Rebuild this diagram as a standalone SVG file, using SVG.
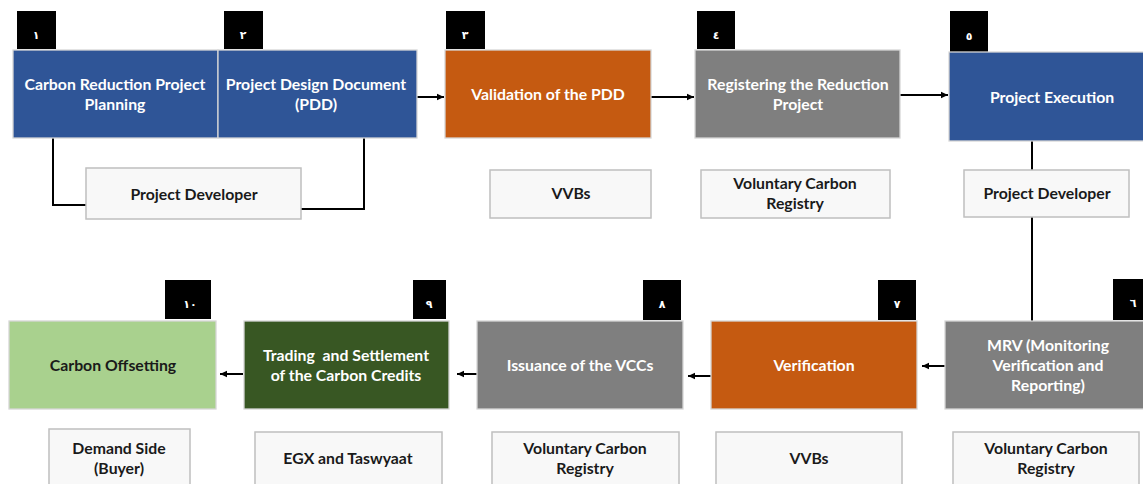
<svg xmlns="http://www.w3.org/2000/svg" width="1143" height="484" viewBox="0 0 1143 484">
<style>
.box{stroke:#d6d6d6;stroke-width:1.3}
.blue{fill:#2F5597}
.orange{fill:#C55A11}
.gray{fill:#7F7F7F}
.dgreen{fill:#385723}
.lgreen{fill:#A9D18E}
.actor{fill:#F8F8F8;stroke:#BFBFBF;stroke-width:1.5}
.badge{fill:#000}
.t{font-family:Lato,"Open Sans","Liberation Sans",sans-serif;font-weight:bold;font-size:15.8px;text-anchor:middle;white-space:pre}
.w{fill:#fff}
.k{fill:#1a1a1a}
.n{font-family:"DejaVu Sans","Noto Sans",sans-serif;font-weight:bold;font-size:11px;fill:#fff;text-anchor:middle}
.ln{fill:none;stroke:#000;stroke-width:2}
</style>
<defs>
<marker id="ah" markerWidth="8" markerHeight="8" refX="7" refY="4" orient="auto" markerUnits="userSpaceOnUse">
<path d="M0,0.8 L7,4 L0,7.2 Z" fill="#000"/>
</marker>
</defs>
<g id="connectors">
<polyline class="ln" points="53,138 53,205 86,205"/>
<polyline class="ln" points="364,138 364,209 301,209"/>
<line class="ln" x1="417" y1="97" x2="444" y2="97" marker-end="url(#ah)"/>
<line class="ln" x1="651" y1="97" x2="694" y2="97" marker-end="url(#ah)"/>
<line class="ln" x1="900" y1="95" x2="948" y2="95" marker-end="url(#ah)"/>
<line class="ln" x1="1032" y1="141" x2="1032" y2="170"/>
<line class="ln" x1="1032" y1="217" x2="1032" y2="321"/>
<line class="ln" x1="945" y1="366" x2="922" y2="366" marker-end="url(#ah)"/>
<line class="ln" x1="711" y1="376" x2="688" y2="376" marker-end="url(#ah)"/>
<line class="ln" x1="477" y1="374" x2="457" y2="374" marker-end="url(#ah)"/>
<line class="ln" x1="243" y1="374" x2="220" y2="374" marker-end="url(#ah)"/>
</g>
<g id="step1">
<rect class="badge" x="17" y="11" width="39" height="38"/>
<text class="n" x="36" y="39">١</text>
<rect class="box blue" x="13" y="50" width="205" height="88"/>
<text class="t w" x="115" y="90">Carbon Reduction Project</text>
<text class="t w" x="115" y="110">Planning</text>
</g>
<g id="step2">
<rect class="badge" x="224" y="11" width="39" height="38"/>
<text class="n" x="243" y="39">٢</text>
<rect class="box blue" x="218" y="50" width="199" height="88"/>
<text class="t w" x="316" y="90">Project Design Document</text>
<text class="t w" x="316" y="110">(PDD)</text>
</g>
<g id="actor12">
<rect class="actor" x="86" y="168" width="215" height="51"/>
<text class="t k" x="194" y="200">Project Developer</text>
</g>
<g id="step3">
<rect class="badge" x="446" y="11" width="39" height="38"/>
<text class="n" x="465" y="39">٣</text>
<rect class="box orange" x="445" y="50" width="206" height="88"/>
<text class="t w" x="548" y="100">Validation of the PDD</text>
</g>
<g id="actor3">
<rect class="actor" x="490" y="170" width="161" height="48"/>
<text class="t k" x="571" y="199">VVBs</text>
</g>
<g id="step4">
<rect class="badge" x="697" y="11" width="38" height="38"/>
<text class="n" x="716" y="39">٤</text>
<rect class="box gray" x="695" y="50" width="205" height="88"/>
<text class="t w" x="798" y="90">Registering the Reduction</text>
<text class="t w" x="798" y="110">Project</text>
</g>
<g id="actor4">
<rect class="actor" x="701" y="170" width="189" height="48"/>
<text class="t k" x="795" y="189">Voluntary Carbon</text>
<text class="t k" x="795" y="209">Registry</text>
</g>
<g id="step5">
<rect class="badge" x="950" y="11" width="38" height="41"/>
<text class="n" x="969" y="40">٥</text>
<rect class="box blue" x="949" y="52" width="200" height="89"/>
<text class="t w" x="1052" y="103">Project Execution</text>
</g>
<g id="actor5">
<rect class="actor" x="964" y="170" width="165" height="47"/>
<text class="t k" x="1047" y="199">Project Developer</text>
</g>
<g id="step6">
<rect class="badge" x="1113" y="279" width="40" height="41"/>
<text class="n" x="1133" y="307">٦</text>
<rect class="box gray" x="945" y="321" width="205" height="88"/>
<text class="t w" x="1048" y="351">MRV (Monitoring</text>
<text class="t w" x="1048" y="371">Verification and</text>
<text class="t w" x="1048" y="391">Reporting)</text>
</g>
<g id="actor6">
<rect class="actor" x="953" y="432" width="186" height="60"/>
<text class="t k" x="1046" y="454">Voluntary Carbon</text>
<text class="t k" x="1046" y="474">Registry</text>
</g>
<g id="step7">
<rect class="badge" x="878" y="280" width="38" height="40"/>
<text class="n" x="897" y="308">٧</text>
<rect class="box orange" x="711" y="321" width="206" height="88"/>
<text class="t w" x="814" y="371">Verification</text>
</g>
<g id="actor7">
<rect class="actor" x="716" y="432" width="186" height="60"/>
<text class="t k" x="809" y="464">VVBs</text>
</g>
<g id="step8">
<rect class="badge" x="643" y="280" width="38" height="40"/>
<text class="n" x="662" y="308">٨</text>
<rect class="box gray" x="477" y="321" width="206" height="88"/>
<text class="t w" x="580" y="371">Issuance of the VCCs</text>
</g>
<g id="actor8">
<rect class="actor" x="492" y="432" width="187" height="60"/>
<text class="t k" x="585" y="454">Voluntary Carbon</text>
<text class="t k" x="585" y="474">Registry</text>
</g>
<g id="step9">
<rect class="badge" x="413" y="280" width="33" height="39"/>
<text class="n" x="429" y="308">٩</text>
<rect class="box dgreen" x="244" y="321" width="205" height="88"/>
<text class="t w" x="346" y="361" xml:space="preserve">Trading  and Settlement</text>
<text class="t w" x="346" y="381">of the Carbon Credits</text>
</g>
<g id="actor9">
<rect class="actor" x="255" y="432" width="187" height="60"/>
<text class="t k" x="348" y="464">EGX and Taswyaat</text>
</g>
<g id="step10">
<rect class="badge" x="165" y="280" width="46" height="39"/>
<text class="n" x="190" y="308">١٠</text>
<rect class="box lgreen" x="9" y="321" width="207" height="88"/>
<text class="t k" x="113" y="371">Carbon Offsetting</text>
</g>
<g id="actor10">
<rect class="actor" x="49" y="429" width="141" height="60"/>
<text class="t k" x="119" y="454">Demand Side</text>
<text class="t k" x="119" y="474">(Buyer)</text>
</g>
</svg>
